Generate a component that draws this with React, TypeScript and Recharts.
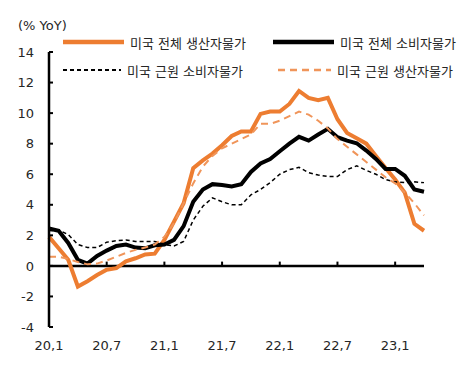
import { LineChart, Line, XAxis, YAxis, ReferenceLine, Legend } from "recharts";

const months = [
  "20.1", "20.2", "20.3", "20.4", "20.5", "20.6", "20.7", "20.8", "20.9", "20.10", "20.11", "20.12",
  "21.1", "21.2", "21.3", "21.4", "21.5", "21.6", "21.7", "21.8", "21.9", "21.10", "21.11", "21.12",
  "22.1", "22.2", "22.3", "22.4", "22.5", "22.6", "22.7", "22.8", "22.9", "22.10", "22.11", "22.12",
  "23.1", "23.2", "23.3", "23.4",
];

// 미국 전체 생산자물가
const ppi = [
  1.9, 1.15, 0.4, -1.35, -1.0, -0.6, -0.25, -0.15, 0.3, 0.5, 0.75, 0.8,
  1.7, 2.9, 4.1, 6.4, 6.9, 7.35, 7.9, 8.5, 8.8, 8.8, 9.95, 10.1,
  10.1, 10.6, 11.45, 11.0, 10.85, 11.0, 9.6, 8.7, 8.35, 8.0, 7.2, 6.4,
  5.65, 4.8, 2.75, 2.3,
];

// 미국 전체 소비자물가
const cpi = [
  2.45, 2.3, 1.5, 0.4, 0.15, 0.65, 1.0, 1.3, 1.4, 1.2, 1.15, 1.35,
  1.4, 1.7, 2.6, 4.2, 5.0, 5.35, 5.3, 5.2, 5.35, 6.15, 6.7, 7.0,
  7.5, 8.0, 8.45, 8.2, 8.6, 8.97, 8.42, 8.2, 8.03, 7.55, 7.0, 6.35,
  6.35, 5.9, 5.0, 4.85,
];

// 미국 근원 소비자물가
const coreCpi = [
  2.3, 2.35, 2.05, 1.4, 1.2, 1.2, 1.55, 1.65, 1.7, 1.6, 1.6, 1.6,
  1.4, 1.3, 1.6, 3.0, 3.9, 4.45, 4.2, 4.0, 4.0, 4.65, 5.0, 5.45,
  6.0, 6.3, 6.45, 6.1, 5.95, 5.85, 5.85, 6.3, 6.55, 6.25, 6.0, 5.65,
  5.5, 5.45, 5.5, 5.45,
];

// 미국 근원 생산자물가
const corePpi = [
  0.6, 0.6, 0.45, 0.25, 0.1, 0.15, 0.35, 0.6, 0.85, 1.05, 1.2, 1.4,
  1.9, 2.8, 4.1, 5.4, 6.5, 7.2, 7.7, 8.0, 8.3, 8.6, 9.3, 9.3,
  9.5, 9.8, 10.1, 9.9, 9.5, 9.0, 8.3, 7.8, 7.3, 6.8, 6.3, 5.8,
  5.4, 4.8, 4.1, 3.3,
];

const xTickIdx = [0, 6, 12, 18, 24, 30, 36];
const xTickLabels = ["20,1", "20,7", "21,1", "21,7", "22,1", "22,7", "23,1"];
const yTicks = [-4, -2, 0, 2, 4, 6, 8, 10, 12, 14];

const data = months.map((m, i) => ({
  idx: i,
  month: m,
  ppi: ppi[i],
  cpi: cpi[i],
  coreCpi: coreCpi[i],
  corePpi: corePpi[i],
}));

const ORANGE = "#ED7D31";
const ORANGE_DASH = "#F0955A";

const series = [
  { key: "ppi", name: "미국 전체 생산자물가", color: ORANGE, width: 4, dash: undefined as string | undefined },
  { key: "cpi", name: "미국 전체 소비자물가", color: "#000000", width: 4, dash: undefined },
  { key: "coreCpi", name: "미국 근원 소비자물가", color: "#000000", width: 1.5, dash: "4 3" },
  { key: "corePpi", name: "미국 근원 생산자물가", color: ORANGE_DASH, width: 2, dash: "7 5" },
];

// where each legend entry sits (line start x, row centre y, line length)
const legendSpots = [
  { left: 63, top: 42, len: 61 },
  { left: 273, top: 42, len: 61 },
  { left: 63, top: 70, len: 58 },
  { left: 278, top: 70, len: 53 },
];

const LegendBox = () => (
  <div style={{ position: "relative", width: 471, height: 90 }}>
    {series.map((s, i) => {
      const p = legendSpots[i];
      return (
        <div
          key={s.key}
          style={{
            position: "absolute",
            left: p.left,
            top: p.top - 10,
            height: 20,
            display: "flex",
            alignItems: "center",
            whiteSpace: "nowrap",
          }}
        >
          <svg width={p.len} height={20}>
            <line
              x1={0}
              x2={p.len}
              y1={10}
              y2={10}
              stroke={s.color}
              strokeWidth={s.width + 0.5}
              strokeDasharray={s.dash}
            />
          </svg>
          <span style={{ marginLeft: 6, fontSize: 13, color: "#262626" }}>{s.name}</span>
        </div>
      );
    })}
  </div>
);

export default function App() {
  return (
    <div
      style={{
        position: "absolute",
        left: 0,
        top: 0,
        width: 471,
        height: 374,
        background: "#fff",
        fontFamily: "'DejaVu Sans', 'Noto Sans CJK KR', sans-serif",
      }}
    >
      <LineChart width={471} height={374} data={data} margin={{ top: 52, right: 47, bottom: 17, left: 9 }}>
        <XAxis
          type="number"
          dataKey="idx"
          domain={[0, 39]}
          ticks={xTickIdx}
          interval={0}
          tickFormatter={(v: number) => xTickLabels[xTickIdx.indexOf(v)]}
          axisLine={false}
          tickLine={false}
          tickSize={0}
          tickMargin={14}
          height={30}
          tick={{ fill: "#262626", fontSize: 13 }}
        />
        <YAxis
          domain={[-4, 14]}
          ticks={yTicks}
          interval={0}
          allowDataOverflow
          width={40}
          tickSize={-4}
          tickMargin={19}
          axisLine={{ stroke: "#000", strokeWidth: 2.5 }}
          tickLine={{ stroke: "#000", strokeWidth: 2 }}
          tick={{ fill: "#262626", fontSize: 13 }}
          label={{
            content: (props: any) => (
              <text x={18} y={30} fill="#262626" fontSize={13}>
                (% YoY)
              </text>
            ),
          }}
        />
        <ReferenceLine y={0} stroke="#000" strokeWidth={2.5} />
        {xTickIdx.slice(1).map((t) => (
          <ReferenceLine
            key={t}
            segment={[
              { x: t, y: 0 },
              { x: t, y: 0.28 },
            ]}
            stroke="#000"
            strokeWidth={2}
          />
        ))}
        <Legend
          layout="horizontal"
          verticalAlign="middle"
          align="center"
          wrapperStyle={{ top: 0, left: 0, width: 471 }}
          content={() => <LegendBox />}
        />
        {series.map((s) => (
          <Line
            key={s.key}
            type="linear"
            dataKey={s.key}
            name={s.name}
            stroke={s.color}
            strokeWidth={s.width}
            strokeDasharray={s.dash}
            dot={false}
            activeDot={false}
            isAnimationActive={false}
          />
        ))}
      </LineChart>
    </div>
  );
}
